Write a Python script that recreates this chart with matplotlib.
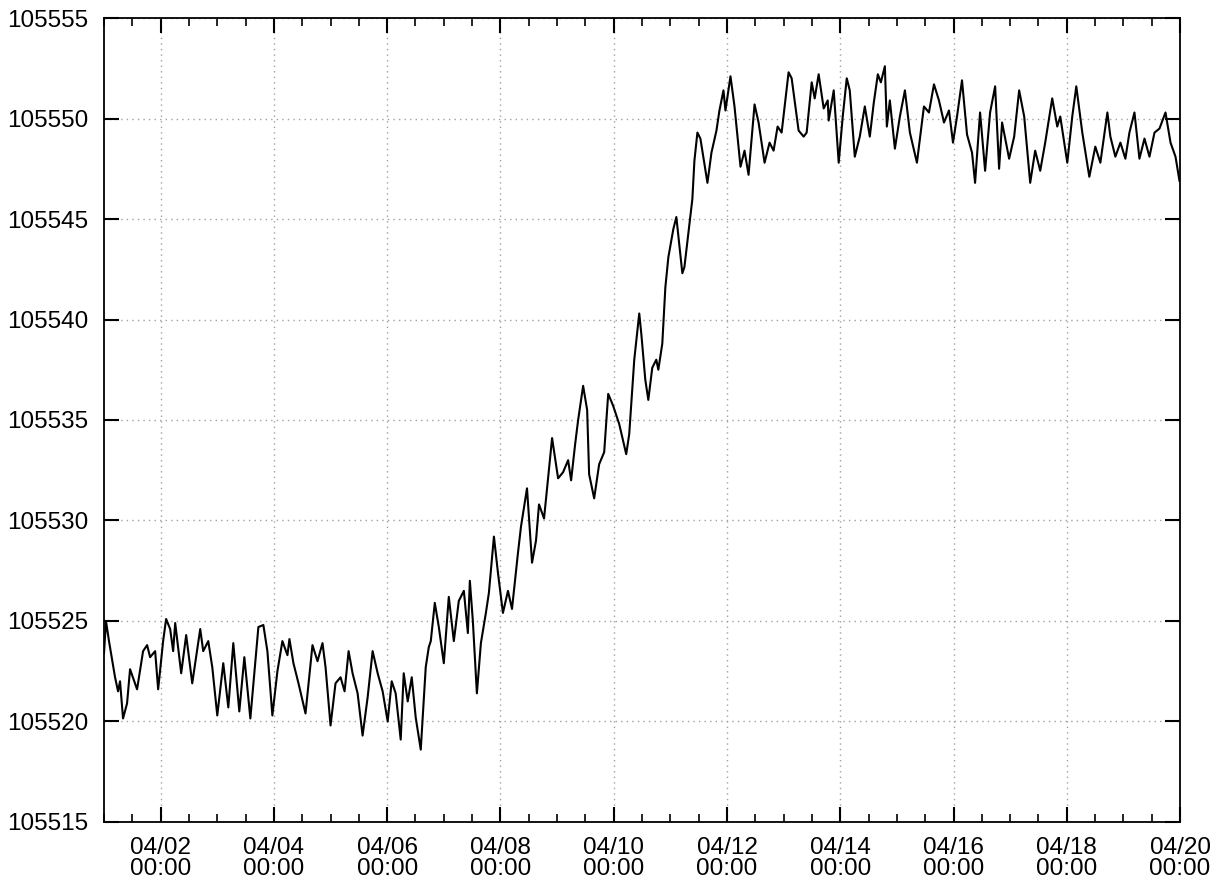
import numpy as np
import pandas as pd
import matplotlib
matplotlib.use("Agg")
import matplotlib.pyplot as plt
import matplotlib.dates as mdates
from matplotlib.ticker import ScalarFormatter

# days since 04/01 00:00
days = [
    0.000, 0.035, 0.088, 0.195, 0.248, 0.283, 0.336, 0.407, 0.460, 0.584,
    0.690, 0.761, 0.814, 0.903, 0.956, 1.044, 1.097, 1.168, 1.221, 1.257,
    1.363, 1.451, 1.558, 1.699, 1.752, 1.841, 1.912, 2.000, 2.106, 2.195,
    2.283, 2.389, 2.478, 2.584, 2.726, 2.814, 2.885, 2.973, 3.062, 3.150,
    3.239, 3.274, 3.345, 3.434, 3.558, 3.681, 3.770, 3.858, 3.912, 4.000,
    4.088, 4.177, 4.248, 4.319, 4.389, 4.478, 4.566, 4.655, 4.743, 4.832,
    4.920, 5.009, 5.080, 5.150, 5.239, 5.292, 5.363, 5.434, 5.504, 5.593,
    5.681, 5.735, 5.770, 5.841, 5.912, 6.000, 6.088, 6.177, 6.265, 6.354,
    6.425, 6.460, 6.513, 6.584, 6.655, 6.743, 6.796, 6.885, 6.956, 7.044,
    7.133, 7.204, 7.310, 7.363, 7.469, 7.558, 7.628, 7.681, 7.770, 7.841,
    7.912, 8.018, 8.106, 8.195, 8.248, 8.319, 8.372, 8.460, 8.531, 8.566,
    8.655, 8.743, 8.832, 8.903, 8.991, 9.097, 9.221, 9.274, 9.363, 9.451,
    9.487, 9.558, 9.611, 9.681, 9.752, 9.788, 9.858, 9.912, 9.965, 10.053,
    10.106, 10.212, 10.248, 10.319, 10.389, 10.425, 10.478, 10.531, 10.655, 10.726,
    10.814, 10.867, 10.938, 10.973, 11.062, 11.133, 11.239, 11.310, 11.381, 11.487,
    11.558, 11.664, 11.752, 11.823, 11.894, 11.965, 12.088, 12.142, 12.265, 12.354,
    12.407, 12.496, 12.549, 12.619, 12.708, 12.779, 12.796, 12.885, 12.973, 13.044,
    13.115, 13.168, 13.257, 13.345, 13.434, 13.522, 13.593, 13.664, 13.717, 13.788,
    13.823, 13.876, 13.965, 14.053, 14.142, 14.230, 14.354, 14.478, 14.566, 14.655,
    14.743, 14.832, 14.920, 14.991, 15.062, 15.150, 15.239, 15.327, 15.381, 15.469,
    15.558, 15.646, 15.735, 15.805, 15.858, 15.982, 16.071, 16.159, 16.248, 16.354,
    16.442, 16.531, 16.619, 16.743, 16.832, 16.885, 17.009, 17.097, 17.168, 17.274,
    17.398, 17.504, 17.593, 17.717, 17.770, 17.858, 17.947, 18.035, 18.106, 18.195,
    18.283, 18.372, 18.460, 18.549, 18.637, 18.743, 18.832, 18.920, 18.990,
]

values = [
    105523.4, 105525.0, 105524.0, 105522.2, 105521.5, 105522.0, 105520.15, 105520.9, 105522.6, 105521.6,
    105523.5, 105523.8, 105523.2, 105523.5, 105521.6, 105524.0, 105525.1, 105524.6, 105523.5, 105524.9,
    105522.4, 105524.3, 105521.9, 105524.6, 105523.5, 105524.0, 105522.7, 105520.3, 105522.9, 105520.7,
    105523.9, 105520.5, 105523.2, 105520.15, 105524.7, 105524.8, 105523.5, 105520.3, 105522.5, 105524.0,
    105523.3, 105524.1, 105522.9, 105521.9, 105520.4, 105523.8, 105523.0, 105523.9, 105522.7, 105519.8,
    105521.9, 105522.2, 105521.5, 105523.5, 105522.4, 105521.4, 105519.3, 105521.2, 105523.5, 105522.4,
    105521.5, 105520.0, 105522.0, 105521.4, 105519.1, 105522.4, 105521.0, 105522.2, 105520.2, 105518.6,
    105522.7, 105523.7, 105524.0, 105525.9, 105524.7, 105522.9, 105526.2, 105524.0, 105526.0, 105526.5,
    105524.4, 105527.0, 105525.0, 105521.4, 105523.9, 105525.4, 105526.4, 105529.2, 105527.4, 105525.4,
    105526.5, 105525.6, 105528.4, 105529.7, 105531.6, 105527.9, 105529.0, 105530.8, 105530.1, 105532.1,
    105534.1, 105532.1, 105532.4, 105533.0, 105532.0, 105533.8, 105535.0, 105536.7, 105535.5, 105532.3,
    105531.1, 105532.8, 105533.4, 105536.3, 105535.7, 105534.8, 105533.3, 105534.3, 105538.0, 105540.3,
    105539.3, 105537.0, 105536.0, 105537.6, 105538.0, 105537.5, 105538.8, 105541.6, 105543.1, 105544.5,
    105545.1, 105542.3, 105542.6, 105544.3, 105546.0, 105547.9, 105549.3, 105549.0, 105546.8, 105548.3,
    105549.4, 105550.4, 105551.4, 105550.4, 105552.1, 105550.6, 105547.6, 105548.4, 105547.2, 105550.7,
    105549.8, 105547.8, 105548.8, 105548.4, 105549.6, 105549.3, 105552.3, 105552.0, 105549.4, 105549.1,
    105549.3, 105551.8, 105551.0, 105552.2, 105550.5, 105550.9, 105549.9, 105551.4, 105547.8, 105550.1,
    105552.0, 105551.4, 105548.1, 105549.1, 105550.6, 105549.1, 105550.8, 105552.2, 105551.8, 105552.6,
    105549.6, 105550.9, 105548.5, 105550.1, 105551.4, 105549.3, 105547.8, 105550.6, 105550.3, 105551.7,
    105550.9, 105549.8, 105550.4, 105548.8, 105550.1, 105551.9, 105549.2, 105548.3, 105546.8, 105550.3,
    105547.4, 105550.3, 105551.6, 105547.5, 105549.8, 105548.0, 105549.1, 105551.4, 105550.1, 105546.8,
    105548.4, 105547.4, 105548.8, 105551.0, 105549.6, 105550.1, 105547.8, 105550.1, 105551.6, 105549.3,
    105547.1, 105548.6, 105547.8, 105550.3, 105549.1, 105548.1, 105548.8, 105548.0, 105549.3, 105550.3,
    105548.0, 105549.0, 105548.1, 105549.3, 105549.5, 105550.3, 105548.8, 105548.1, 105546.9,
]

start = pd.Timestamp("2013-04-01 00:00")
end = pd.Timestamp("2013-04-20 00:00")
times = start + pd.to_timedelta(days, unit="D")

plt.rcParams["font.family"] = ["Liberation Sans", "DejaVu Sans"]

fig = plt.figure(figsize=(12.25, 8.83), dpi=100)
ax = fig.add_axes([0.0849, 0.0691, 0.8784, 0.9105])

ax.plot(times, values, color="black", linewidth=1.5)

ax.set_xlim(start, end)
ax.set_ylim(105515, 105555)
ax.set_yticks(np.arange(105515, 105556, 5))
ax.yaxis.set_major_formatter(ScalarFormatter(useOffset=False))

ax.xaxis.set_major_locator(mdates.DayLocator(bymonthday=range(2, 32, 2)))
ax.xaxis.set_minor_locator(mdates.HourLocator(byhour=[0, 12]))
ax.xaxis.set_major_formatter(mdates.DateFormatter("%m/%d\n%H:%M"))

ax.grid(True, which="major", linestyle=(0, (1, 3)), color="#a0a0a0", linewidth=1)

ax.tick_params(which="both", direction="in", top=True, right=True, color="black")
ax.tick_params(which="major", length=11, width=1.5)
ax.tick_params(which="minor", length=6, width=1.2)
ax.tick_params(axis="y", pad=11.5, labelsize=17.5)
ax.tick_params(axis="x", pad=11, labelsize=17.5)

for lbl in ax.get_xticklabels():
    lbl.set_linespacing(0.95)

for spine in ax.spines.values():
    spine.set_linewidth(1.3)

fig.savefig("out.png", dpi=100)
